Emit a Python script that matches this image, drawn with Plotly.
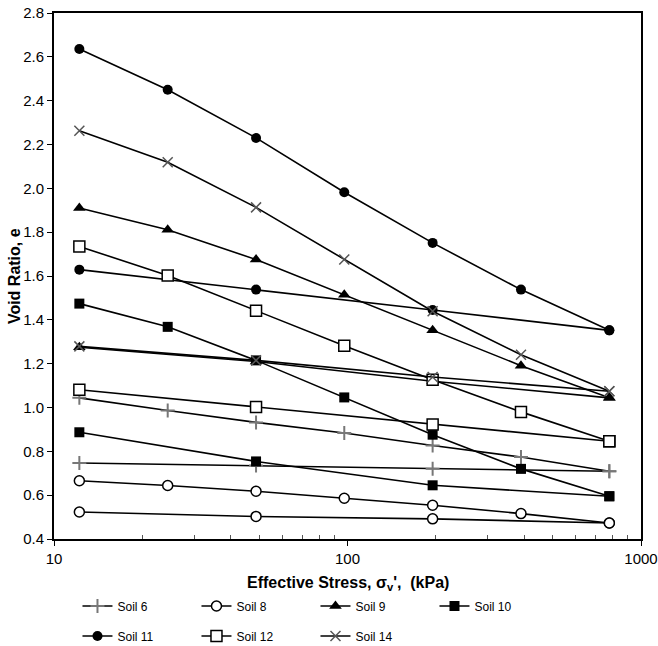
import plotly.graph_objects as go

# Effective stress (kPa)
stress_load = [12.2, 24.4, 48.8, 97.5, 195, 390, 780]
stress_unload = [12.2, 48.8, 195, 780]

soil_names = ["Soil 6", "Soil 8", "Soil 9", "Soil 10", "Soil 11", "Soil 12", "Soil 14"]

soil6_load = [1.044, 0.986, 0.932, 0.884, 0.827, 0.774, 0.709]
soil6_unload = [0.747, 0.735, 0.721, 0.709]
soil8_load = [0.666, 0.644, 0.618, 0.586, 0.554, 0.516, 0.473]
soil8_unload = [0.523, 0.503, 0.492, 0.473]
soil9_load = [1.910, 1.811, 1.675, 1.515, 1.352, 1.191, 1.044]
soil9_unload = [1.275, 1.210, 1.120, 1.044]
soil10_load = [1.474, 1.368, 1.215, 1.046, 0.876, 0.720, 0.595]
soil10_unload = [0.887, 0.754, 0.645, 0.595]
soil11_load = [2.636, 2.450, 2.230, 1.982, 1.751, 1.538, 1.352]
soil11_unload = [1.629, 1.538, 1.445, 1.352]
soil12_load = [1.735, 1.602, 1.442, 1.282, 1.127, 0.980, 0.846]
soil12_unload = [1.081, 1.002, 0.922, 0.846]
soil14_load = [2.263, 2.119, 1.913, 1.675, 1.439, 1.241, 1.074]
soil14_unload = [1.279, 1.215, 1.139, 1.074]

y_ticks = [0.4, 0.6, 0.8, 1.0, 1.2, 1.4, 1.6, 1.8, 2.0, 2.2, 2.4, 2.6, 2.8]
x_ticks = [10, 100, 1000]
x_minor = [20, 30, 40, 50, 60, 70, 80, 90, 200, 300, 400, 500, 600, 700, 800, 900]

loads = [soil6_load, soil8_load, soil9_load, soil10_load, soil11_load, soil12_load, soil14_load]
unloads = [soil6_unload, soil8_unload, soil9_unload, soil10_unload, soil11_unload, soil12_unload, soil14_unload]

markers = [
    dict(symbol="cross-thin", size=10, color="#777", line=dict(color="#777", width=2)),
    dict(symbol="circle", size=10, color="white", line=dict(color="black", width=1.5)),
    dict(symbol="triangle-up", size=11, color="black", line=dict(color="black", width=0)),
    dict(symbol="square", size=10, color="black", line=dict(color="black", width=0)),
    dict(symbol="circle", size=10, color="black", line=dict(color="black", width=0)),
    dict(symbol="square", size=11, color="white", line=dict(color="black", width=1.5)),
    dict(symbol="x-thin", size=10, color="#555", line=dict(color="#555", width=1.5)),
]

FONT = "Arial, 'Liberation Sans', sans-serif"
LEGFONT = "'Liberation Sans Narrow', 'Arial Narrow', Arial, 'Liberation Sans', sans-serif"

fig = go.Figure()
for i, name in enumerate(soil_names):
    leg = "legend" if i < 4 else "legend2"
    fig.add_trace(go.Scatter(
        x=stress_load, y=loads[i], mode="lines+markers", name=name,
        legendgroup=name, showlegend=True, legend=leg,
        line=dict(color="black", width=1.6), marker=markers[i]))
    fig.add_trace(go.Scatter(
        x=stress_unload, y=unloads[i], mode="lines+markers", name=name,
        legendgroup=name, showlegend=False,
        line=dict(color="black", width=1.6), marker=markers[i]))

fig.update_layout(
    width=658, height=646,
    margin=dict(l=54, r=17, t=13, b=107, autoexpand=False),
    paper_bgcolor="white", plot_bgcolor="white",
    font=dict(family=FONT, size=15, color="black"),
    xaxis=dict(
        type="log", range=[1, 3], tickvals=x_ticks, ticktext=[str(v) for v in x_ticks],
        ticks="outside", ticklen=5, tickwidth=1, tickcolor="black",
        showline=True, linecolor="black", linewidth=2, mirror=True,
        showgrid=False, zeroline=False, automargin=False, ticklabeloverflow="allow",
        tickfont=dict(size=15),
        minor=dict(tickvals=x_minor, ticks="inside", ticklen=4, tickcolor="#555", showgrid=False),
    ),
    yaxis=dict(
        range=[0.4, 2.8], tickvals=y_ticks, ticktext=[f"{v:.1f}" for v in y_ticks],
        ticks="outside", ticklen=5, tickwidth=1, tickcolor="black",
        showline=True, linecolor="black", linewidth=2, mirror=True,
        showgrid=False, zeroline=False, automargin=False, ticklabeloverflow="allow",
        tickfont=dict(size=15),
    ),
    legend=dict(orientation="h", x=0.040, y=-0.1274, xanchor="left", yanchor="middle",
                entrywidth=74, entrywidthmode="pixels", font=dict(family=LEGFONT, size=12),
                bgcolor="rgba(0,0,0,0)", tracegroupgap=0),
    legend2=dict(orientation="h", x=0.040, y=-0.1844, xanchor="left", yanchor="middle",
                 entrywidth=74, entrywidthmode="pixels", font=dict(family=LEGFONT, size=12),
                 bgcolor="rgba(0,0,0,0)", tracegroupgap=0),
    annotations=[
        dict(text="<b>Effective Stress, σ<sub>v</sub>',  (kPa)</b>", xref="paper", yref="paper",
             x=0.5, y=-0.085, xanchor="center", yanchor="middle", showarrow=False,
             font=dict(size=16)),
        dict(text="<b>Void Ratio, e</b>", xref="paper", yref="paper",
             x=-0.068, y=0.5, xanchor="center", yanchor="middle", showarrow=False,
             textangle=-90, font=dict(size=16)),
    ],
)

# remove the default 8px page margin so the figure sits at the window's top-left corner
fig.write_html("out.html", config={"displayModeBar": False},
               post_script="document.body.style.margin='0px';")
